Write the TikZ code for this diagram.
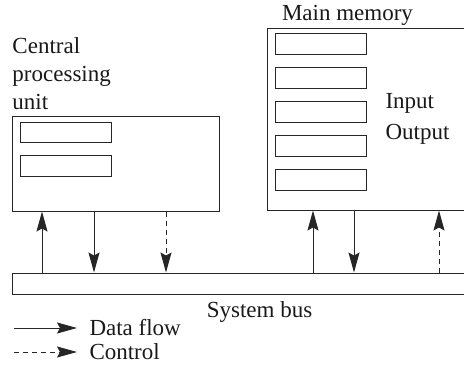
\documentclass[tikz,border=0pt]{standalone}
\usepackage{fontspec}
\setmainfont{Liberation Serif}
\usetikzlibrary{arrows.meta}
\begin{document}
\begin{tikzpicture}[x=1pt,y=-1pt,
  line width=1pt,
  ink/.style={draw=black!85},
  box/.style={ink, rectangle, inner sep=0pt, fill=white},
  label/.style={inner sep=0pt, font=\fontsize{23}{28}\selectfont, text=black!90},
  dataflow/.style={ink, -{Stealth[length=20pt,width=11pt,inset=3pt]}},
  controlflow/.style={dataflow, dash pattern=on 5pt off 4pt}]
  \useasboundingbox (0,0) rectangle (464,375);
  \clip (0,0) rectangle (464,375);

  % CPU with its two registers
  \node[box, minimum width=207pt, minimum height=95pt] (cpu) at (115.5,163.5) {};
  \node[box, minimum width=91pt, minimum height=20pt] (reg1) at (65.5,132) {};
  \node[box, minimum width=91pt, minimum height=21pt] (reg2) at (65.5,165.5) {};
  \node[label, anchor=north west, align=left] (cpulbl) at (12,37.5)
    {Central\\processing\\unit};

  % Main memory with its words
  \node[box, minimum width=213pt, minimum height=182pt] (mem) at (373.5,119) {};
  \foreach \i/\y in {1/43.5,2/77.5,3/111.5,4/145.5,5/179.5}
    \node[box, minimum width=91pt, minimum height=21pt] (word\i) at (320.5,\y) {};
  \node[label, anchor=base] (memlbl) at (347.5,20) {Main memory};
  \node[label, anchor=north west, align=left, font=\fontsize{23}{31}\selectfont] (iolbl) at (385,92.5)
    {Input\\Output};

  % System bus
  \node[box, minimum width=468pt, minimum height=21pt] (bus) at (246,283.5) {};
  \node[label, anchor=base] (buslbl) at (259.5,317) {System bus};

  % Transfers between the units and the bus
  \draw[dataflow] (bus.north -| 42,0) -- (cpu.south -| 42,0);
  \draw[dataflow] (cpu.south -| 94,0) -- (bus.north -| 94,0);
  \draw[controlflow] (cpu.south -| 166,0) -- (bus.north -| 166,0);
  \draw[dataflow] (bus.north -| 313,0) -- (mem.south -| 313,0);
  \draw[dataflow] (mem.south -| 354,0) -- (bus.north -| 354,0);
  \draw[controlflow] (bus.north -| 439,0) -- (mem.south -| 439,0);

  % Legend
  \coordinate (dfa) at (14,328);
  \coordinate (dfb) at (77,328);
  \coordinate (cfa) at (14,352);
  \coordinate (cfb) at (77,352);
  \draw[dataflow] (dfa) -- (dfb);
  \draw[controlflow] (cfa) -- (cfb);
  \node[label, anchor=base west] (dflbl) at (89,335.5) {Data flow};
  \node[label, anchor=base west] (cflbl) at (89,359) {Control};
\end{tikzpicture}
\end{document}
